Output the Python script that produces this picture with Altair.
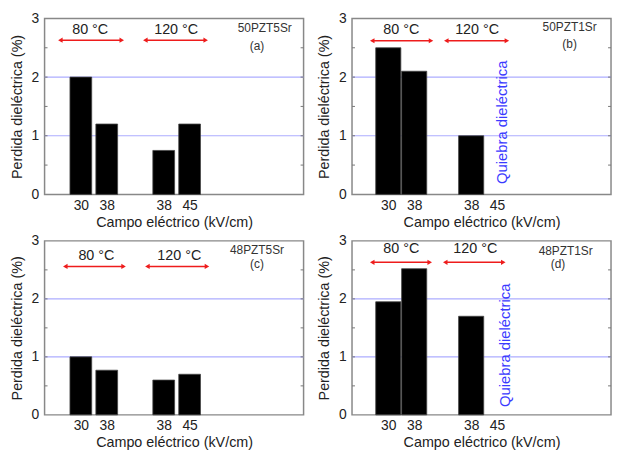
import altair as alt
import pandas as pd

# ---- data ----
positions = [1.4, 2.4, 4.6, 5.6]
tick_labels = ["30", "38", "38", "45"]
values_a = [2.0, 1.2, 0.75, 1.2]
values_b = [2.5, 2.1, 1.0]
values_c = [1.0, 0.77, 0.6, 0.7]
values_d = [1.95, 2.52, 1.7]
samples = ["50PZT5Sr", "50PZT1Sr", "48PZT5Sr", "48PZT1Sr"]
letters = ["(a)", "(b)", "(c)", "(d)"]
temps = ["80 °C", "120 °C"]
grid_levels = [1, 2]
minor_levels = [0.5, 1, 1.5, 2, 2.5]
breakdown_text = "Quiebra dieléctrica"

FONT = "Liberation Sans"
W = 262

label_expr = " : ".join(
    f"round(datum.value*10) == {round(p*10)} ? '{t}'" for p, t in zip(positions, tick_labels)
) + " : ''"

# layout of annotations per panel (data units)
layouts = [
    dict(arrows=[(0.61, 2.98), (3.89, 6.22)], ay=2.63, tx=[1.76, 5.08], ty=2.81,
         sx=8.5, sy=2.83, lx=8.2, ly=2.53, bw=0.84, q=None, h=178),
    dict(arrows=[(0.78, 3.05), (3.64, 5.98)], ay=2.62, tx=[1.9, 4.83], ty=2.80,
         sx=8.4, sy=2.85, lx=8.4, ly=2.57, bw=0.97, q=(5.8, 1.23), h=178),
    dict(arrows=[(0.8, 3.05), (3.97, 6.27)], ay=2.56, tx=[2.0, 5.2], ty=2.74,
         sx=8.2, sy=2.84, lx=8.2, ly=2.6, bw=0.84, q=None, h=176),
    dict(arrows=[(0.78, 3.0), (3.6, 5.84)], ay=2.63, tx=[1.9, 4.76], ty=2.86,
         sx=8.25, sy=2.83, lx=7.95, ly=2.6, bw=0.97, q=(5.9, 1.2), h=176),
]

xscale = alt.Scale(domain=[0, 10], nice=False, zero=False)
yscale = alt.Scale(domain=[0, 3], nice=False)


def panel(values, sample, letter, lay):
    n = len(values)
    bars_df = pd.DataFrame({"pos": positions[:n], "val": values})
    bars = alt.Chart(bars_df).transform_calculate(
        x1=f"datum.pos - {lay['bw'] / 2}", x2=f"datum.pos + {lay['bw'] / 2}"
    ).mark_rect(color="black", stroke="#444", strokeWidth=0.8).encode(
        x=alt.X("x1:Q", scale=xscale, title="Campo eléctrico (kV/cm)",
                axis=alt.Axis(values=positions, labelExpr=label_expr, ticks=False,
                              domain=False, grid=False, labelPadding=4, titlePadding=3,
                              labelFontSize=14, titleFontSize=14.5, labelFont=FONT,
                              titleFont=FONT, titleFontWeight="normal", labelColor="#222",
                              titleColor="#222")),
        x2="x2:Q",
        y=alt.Y("val:Q", scale=yscale, title="Perdida dieléctrica (%)",
                axis=alt.Axis(values=[0, 1, 2, 3], format="d", ticks=False, domain=False,
                              grid=False, labelPadding=6, titlePadding=7,
                              labelFontSize=14, titleFontSize=14.5, labelFont=FONT,
                              titleFont=FONT, titleFontWeight="normal", labelColor="#222",
                              titleColor="#222")),
        y2=alt.datum(0),
    )

    grid = alt.Chart(pd.DataFrame({"g": grid_levels})).mark_rule(
        color="#adadff", strokeWidth=1.2).encode(y=alt.Y("g:Q", scale=yscale))

    minor_df = pd.DataFrame({"m": minor_levels})
    minor_l = alt.Chart(minor_df).mark_rule(color="#777", strokeWidth=1).encode(
        y=alt.Y("m:Q", scale=yscale), x=alt.value(0), x2=alt.value(3))
    minor_r = alt.Chart(minor_df).mark_rule(color="#777", strokeWidth=1).encode(
        y=alt.Y("m:Q", scale=yscale), x=alt.value(W - 3), x2=alt.value(W))

    arr_df = pd.DataFrame({
        "a": [a for a, b in lay["arrows"]],
        "b": [b for a, b in lay["arrows"]],
        "y": [lay["ay"]] * 2,
    })
    arr_line = alt.Chart(arr_df).mark_rule(color="#ee1c1c", strokeWidth=1.5).encode(
        x=alt.X("a:Q", scale=xscale), x2="b:Q", y=alt.Y("y:Q", scale=yscale))
    head_l = alt.Chart(arr_df).mark_point(shape="triangle-left", filled=True,
                                          color="#ee1c1c", size=28, opacity=1).encode(
        x=alt.X("a:Q", scale=xscale), y=alt.Y("y:Q", scale=yscale))
    head_r = alt.Chart(arr_df).mark_point(shape="triangle-right", filled=True,
                                          color="#ee1c1c", size=28, opacity=1).encode(
        x=alt.X("b:Q", scale=xscale), y=alt.Y("y:Q", scale=yscale))

    temp_df = pd.DataFrame({"t": temps, "x": lay["tx"], "y": [lay["ty"]] * 2})
    temp_txt = alt.Chart(temp_df).mark_text(font=FONT, fontSize=14.5, color="#222").encode(
        x=alt.X("x:Q", scale=xscale), y=alt.Y("y:Q", scale=yscale), text="t:N")

    lab_df = pd.DataFrame({"t": [sample, letter], "x": [lay["sx"], lay["lx"]],
                           "y": [lay["sy"], lay["ly"]], "s": [12, 12]})
    lab_txt = alt.Chart(lab_df).mark_text(font=FONT, color="#333").encode(
        x=alt.X("x:Q", scale=xscale), y=alt.Y("y:Q", scale=yscale), text="t:N",
        size=alt.Size("s:Q", scale=None, legend=None))

    layers = [grid, minor_l, minor_r, bars, arr_line, head_l, head_r, temp_txt, lab_txt]
    if lay["q"] is not None:
        q_df = pd.DataFrame({"t": [breakdown_text], "x": [lay["q"][0]], "y": [lay["q"][1]]})
        layers.append(alt.Chart(q_df).mark_text(font=FONT, fontSize=15, angle=270,
                                                color="#3a3aff").encode(
            x=alt.X("x:Q", scale=xscale), y=alt.Y("y:Q", scale=yscale), text="t:N"))
    return alt.layer(*layers).properties(width=W, height=lay["h"])


panels = [panel(v, s, l, lay) for v, s, l, lay in
          zip([values_a, values_b, values_c, values_d], samples, letters, layouts)]

chart = alt.vconcat(
    alt.hconcat(panels[0], panels[1], spacing=10),
    alt.hconcat(panels[2], panels[3], spacing=10),
    spacing=3,
).properties(
    padding={"left": 0, "top": 0, "right": 0, "bottom": 0},
    background="white",
).configure_view(stroke="#888", strokeWidth=1.5)

chart.save("out.html", embed_options={"renderer": "svg", "actions": False})
